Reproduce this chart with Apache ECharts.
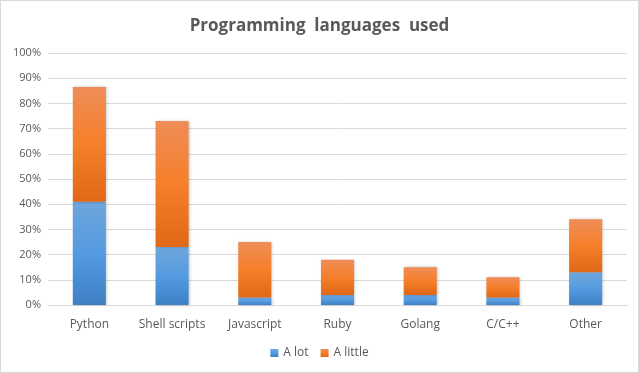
<!DOCTYPE html>
<html><head><meta charset="utf-8">
<script src="https://cdn.jsdelivr.net/npm/echarts@6/dist/echarts.min.js"></script>
<style>html,body{margin:0;padding:0;background:#fff}
#c{width:637px;height:371px;border:1px solid #d9d9d9}</style>
</head><body><div id="c"></div>
<script>
var categories = ['Python','Shell scripts','Javascript','Ruby','Golang','C/C++','Other'];
var aLot = [41, 23, 3, 4, 4, 3, 13];
var aLittle = [45.5, 50, 22, 14, 11, 8, 21];
var yTicks = {min:0, max:100, interval:10};

var blueGrad = new echarts.graphic.LinearGradient(0,0,0,1,[{offset:0,color:'#6fa6dc'},{offset:0.5,color:'#559be0'},{offset:1,color:'#3d80c4'}]);
var orangeGrad = new echarts.graphic.LinearGradient(0,0,0,1,[{offset:0,color:'#ef8d58'},{offset:0.5,color:'#f57f2a'},{offset:1,color:'#e06818'}]);
var chart = echarts.init(document.getElementById('c'));
chart.setOption({
  animation:false,
  textStyle:{fontFamily:'Open Sans, Liberation Sans, sans-serif'},
  title:{text:'Programming  languages  used',left:'center',top:12,
    textStyle:{fontSize:17,fontWeight:'bold',color:'#595959',fontFamily:'Open Sans, sans-serif'}},
  legend:{bottom:8,left:'center',itemWidth:8,itemHeight:8,itemGap:12,icon:'rect',
    textStyle:{color:'#595959',fontSize:12},
    data:['A lot','A little']},
  grid:{left:47,right:11,top:52,bottom:67},
  xAxis:{type:'category',data:categories,
    axisLine:{lineStyle:{color:'#d9d9d9'}},axisTick:{show:false},
    axisLabel:{color:'#595959',fontSize:12,margin:14,interval:0}},
  yAxis:{type:'value',min:yTicks.min,max:yTicks.max,interval:yTicks.interval,
    axisLabel:{formatter:'{value}%',color:'#595959',fontSize:11,margin:7},
    splitLine:{lineStyle:{color:'#d9d9d9'}},axisLine:{show:false},axisTick:{show:false}},
  series:[
    {name:'A lot',type:'bar',stack:'s',data:aLot,barWidth:'40%',
      itemStyle:{color:blueGrad,shadowColor:'rgba(0,0,0,0.25)',shadowBlur:3,shadowOffsetX:1}},
    {name:'A little',type:'bar',stack:'s',data:aLittle,barWidth:'40%',
      itemStyle:{color:orangeGrad,shadowColor:'rgba(0,0,0,0.25)',shadowBlur:3,shadowOffsetX:1}}
  ]
});
</script></body></html>
